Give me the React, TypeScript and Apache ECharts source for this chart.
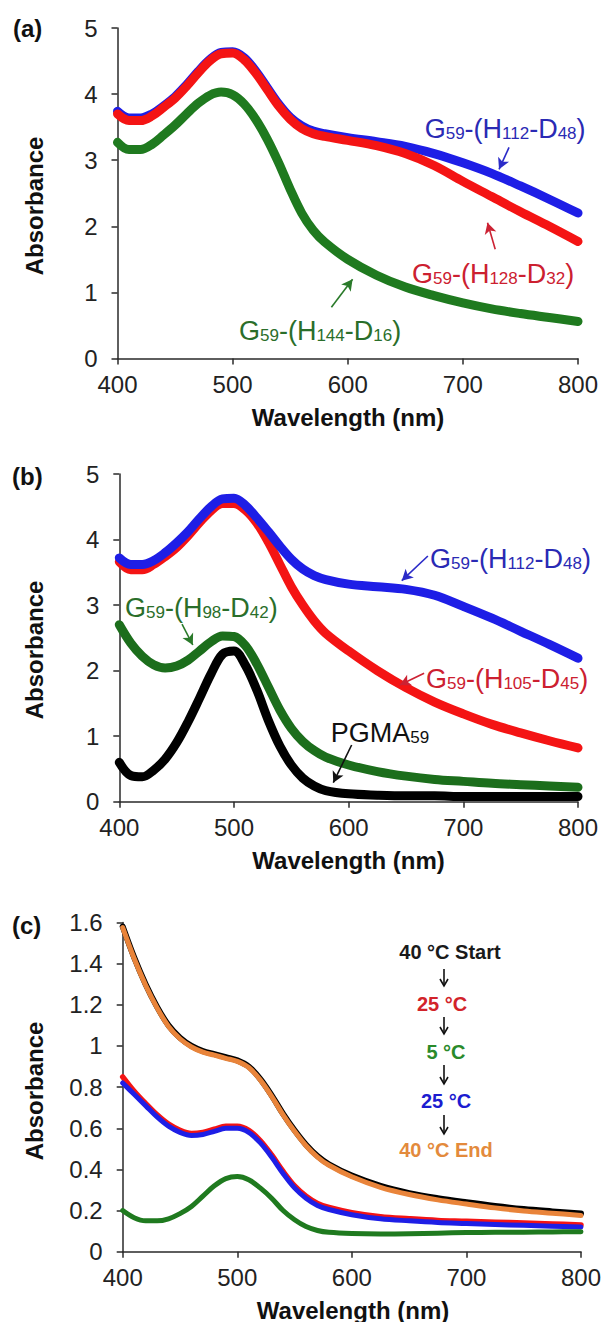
import React, { useEffect, useRef } from "react";
import * as echarts from "echarts";

const FONT = '"Liberation Sans", Arial, Helvetica, sans-serif';

// shared wavelength grid (nm)
const WL = [400, 410, 420, 430, 440, 450, 460, 470, 480, 490, 500, 510, 520, 530, 540, 550, 560, 570, 580, 600, 625, 650, 675, 700, 725, 750, 775, 800];

// Panel (a)
const A_H112_D48 = [3.74, 3.64, 3.64, 3.70, 3.82, 3.96, 4.14, 4.34, 4.52, 4.63, 4.64, 4.55, 4.35, 4.10, 3.85, 3.65, 3.52, 3.44, 3.40, 3.34, 3.28, 3.21, 3.10, 2.96, 2.80, 2.61, 2.41, 2.20];
const A_H128_D32 = [3.70, 3.60, 3.60, 3.67, 3.80, 3.94, 4.12, 4.32, 4.50, 4.61, 4.62, 4.52, 4.32, 4.07, 3.82, 3.62, 3.48, 3.40, 3.36, 3.30, 3.22, 3.10, 2.92, 2.68, 2.45, 2.22, 2.00, 1.77];
const A_H144_D16 = [3.27, 3.16, 3.16, 3.24, 3.38, 3.53, 3.70, 3.86, 3.98, 4.03, 3.99, 3.85, 3.62, 3.32, 2.96, 2.56, 2.20, 1.94, 1.76, 1.50, 1.26, 1.08, 0.95, 0.84, 0.75, 0.68, 0.62, 0.56];

// Panel (b)
const B_H112_D48 = [3.72, 3.62, 3.62, 3.68, 3.80, 3.95, 4.12, 4.32, 4.50, 4.62, 4.63, 4.52, 4.33, 4.12, 3.90, 3.70, 3.55, 3.45, 3.39, 3.32, 3.28, 3.24, 3.15, 2.98, 2.80, 2.60, 2.40, 2.19];
const B_H105_D45 = [3.66, 3.54, 3.54, 3.62, 3.74, 3.88, 4.06, 4.26, 4.44, 4.55, 4.55, 4.45, 4.25, 3.96, 3.62, 3.28, 3.00, 2.76, 2.57, 2.30, 2.00, 1.74, 1.52, 1.34, 1.18, 1.05, 0.93, 0.82];
const B_H98_D42 = [2.70, 2.42, 2.22, 2.09, 2.04, 2.07, 2.16, 2.30, 2.44, 2.53, 2.52, 2.38, 2.10, 1.75, 1.40, 1.12, 0.92, 0.78, 0.68, 0.56, 0.46, 0.39, 0.34, 0.31, 0.28, 0.26, 0.24, 0.22];
const B_PGMA = [0.60, 0.40, 0.38, 0.48, 0.65, 0.90, 1.22, 1.58, 1.95, 2.25, 2.30, 2.08, 1.70, 1.24, 0.85, 0.56, 0.36, 0.24, 0.17, 0.12, 0.10, 0.09, 0.09, 0.08, 0.08, 0.08, 0.08, 0.08];

// Panel (c)
const C_40_START = [1.58, 1.43, 1.30, 1.19, 1.10, 1.04, 1.00, 0.975, 0.96, 0.945, 0.93, 0.90, 0.84, 0.76, 0.67, 0.59, 0.52, 0.465, 0.425, 0.37, 0.32, 0.285, 0.26, 0.24, 0.222, 0.207, 0.196, 0.186];
const C_25_A = [0.85, 0.78, 0.72, 0.665, 0.62, 0.59, 0.575, 0.58, 0.595, 0.61, 0.61, 0.59, 0.54, 0.47, 0.39, 0.32, 0.27, 0.235, 0.215, 0.19, 0.17, 0.16, 0.152, 0.148, 0.143, 0.14, 0.135, 0.13];
const C_5 = [0.20, 0.165, 0.15, 0.15, 0.16, 0.185, 0.22, 0.27, 0.32, 0.355, 0.365, 0.35, 0.31, 0.26, 0.20, 0.155, 0.122, 0.103, 0.094, 0.088, 0.086, 0.087, 0.09, 0.093, 0.094, 0.095, 0.096, 0.097];
const C_25_B = [0.82, 0.765, 0.71, 0.655, 0.61, 0.58, 0.565, 0.57, 0.585, 0.60, 0.60, 0.58, 0.53, 0.46, 0.38, 0.31, 0.26, 0.225, 0.205, 0.18, 0.16, 0.15, 0.142, 0.137, 0.132, 0.128, 0.124, 0.12];
const C_40_END = [1.575, 1.425, 1.295, 1.185, 1.095, 1.035, 0.995, 0.97, 0.955, 0.94, 0.925, 0.895, 0.835, 0.755, 0.665, 0.585, 0.515, 0.46, 0.42, 0.364, 0.313, 0.278, 0.252, 0.232, 0.213, 0.198, 0.187, 0.176];

const X_TICKS = { min: 400, max: 800, interval: 100 };
const Y_AB = { min: 0, max: 5, interval: 1 };
const Y_C = { min: 0, max: 1.6, interval: 0.2 };

const BLUE = "#1e1ee6";
const RED = "#f41414";
const GREEN = "#1f7a1f";
const BLACK = "#000000";
const ORANGE = "#e9843a";

const pairs = (ys: number[]) => WL.map((w, i) => [w, ys[i]]);

const GRIDS = [
  { left: 117.5, top: 28, width: 460.5, height: 330.5 },
  { left: 119.3, top: 474, width: 458.7, height: 327.7 },
  { left: 122.7, top: 922.5, width: 461.3, height: 329.2 },
];

function xAxis(gi: number) {
  return {
    type: "value",
    gridIndex: gi,
    ...X_TICKS,
    axisLine: { show: true, lineStyle: { color: "#2a2a2a", width: 1.5 } },
    axisTick: { show: true, inside: false, length: 6, lineStyle: { color: "#2a2a2a", width: 1.5 } },
    splitLine: { show: false },
    axisLabel: { fontSize: 24, color: "#222", fontFamily: FONT, margin: 14 },
  };
}
function yAxis(gi: number, r: any, fmt?: (v: number) => string) {
  return {
    type: "value",
    gridIndex: gi,
    ...r,
    axisLine: { show: true, lineStyle: { color: "#2a2a2a", width: 1.5 } },
    axisTick: { show: true, inside: false, length: 6, lineStyle: { color: "#2a2a2a", width: 1.5 } },
    splitLine: { show: false },
    axisLabel: { fontSize: 24, color: "#222", fontFamily: FONT, margin: 20, formatter: fmt },
  };
}

function line(name: string, gi: number, ys: number[], color: string, width: number, arrows?: any) {
  const s: any = {
    name,
    type: "line",
    xAxisIndex: gi,
    yAxisIndex: gi,
    data: pairs(ys),
    showSymbol: false,
    symbol: "none",
    smooth: 0.35,
    lineStyle: { color, width, cap: "round", join: "round" },
    itemStyle: { color },
  };
  if (arrows) {
    s.markLine = {
      silent: true,
      symbol: ["none", "arrow"],
      symbolSize: [9, 11],
      lineStyle: { color: arrows.color, width: 1.6, type: "solid" },
      label: { show: false },
      data: [[{ coord: arrows.from }, { coord: arrows.to }]],
    };
  }
  return s;
}

function subLabel(parts: [string, string][], x: number, y: number, color: string) {
  const text = parts.map(([m, s]) => `{m|${m}}` + (s ? `{s|${s}}` : "")).join("");
  return {
    type: "text",
    x,
    y,
    z: 100,
    style: {
      text,
      fill: color,
      align: "left",
      verticalAlign: "top",
      rich: {
        m: { fontSize: 27, fontFamily: FONT, fill: color, lineHeight: 27 },
        s: { fontSize: 17, fontFamily: FONT, fill: color, lineHeight: 6, verticalAlign: "bottom" },
      },
    },
  };
}

function plainText(text: string, x: number, y: number, color: string, size: number, bold: boolean, align = "center", rotation = 0) {
  return {
    type: "text",
    x,
    y,
    rotation,
    z: 100,
    style: {
      text,
      fill: color,
      fontSize: size,
      fontWeight: bold ? "bold" : "normal",
      fontFamily: FONT,
      align,
      verticalAlign: "middle",
    },
  };
}

function downArrow(x: number, y1: number, y2: number) {
  return [
    { type: "line", z: 100, shape: { x1: x, y1, x2: x, y2 }, style: { stroke: "#111", lineWidth: 1.6 } },
    { type: "polyline", z: 100, shape: { points: [[x - 4, y2 - 7], [x, y2], [x + 4, y2 - 7]] }, style: { stroke: "#111", lineWidth: 1.6, fill: "none" } },
  ];
}

const fmtC = (v: number) => String(+v.toFixed(1));

export default function App() {
  const ref = useRef<HTMLDivElement>(null);
  useEffect(() => {
    document.body.style.margin = "0";
    const chart = echarts.init(ref.current!, null, { renderer: "svg" });
    const option: any = {
      animation: false,
      backgroundColor: "#ffffff",
      grid: GRIDS,
      xAxis: [xAxis(0), xAxis(1), xAxis(2)],
      yAxis: [yAxis(0, Y_AB), yAxis(1, Y_AB), yAxis(2, Y_C, fmtC)],
      series: [
        line("G59-(H112-D48) a", 0, A_H112_D48, BLUE, 9, { color: "#2b2bc8", from: [740.1, 3.195], to: [731.4, 2.862] }),
        line("G59-(H128-D32)", 0, A_H128_D32, RED, 9, { color: "#cc2233", from: [728.1, 1.652], to: [721.4, 2.055] }),
        line("G59-(H144-D16)", 0, A_H144_D16, GREEN, 9, { color: "#2a7a2a", from: [585.8, 0.775], to: [604.2, 1.198] }),

        line("G59-(H105-D45)", 1, B_H105_D45, RED, 9, { color: "#cc2233", from: [665.8, 1.959], to: [644.6, 1.781] }),
        line("G59-(H112-D48) b", 1, B_H112_D48, BLUE, 9, { color: "#2b2bc8", from: [669.1, 3.749], to: [646.3, 3.372] }),
        line("G59-(H98-D42)", 1, B_H98_D42, "#1c6e1c", 9, { color: "#2a7a2a", from: [454.7, 2.711], to: [464.1, 2.391] }),
        line("PGMA59", 1, B_PGMA, BLACK, 9, { color: "#111", from: [602.6, 0.865], to: [586.6, 0.29] }),

        line("40 °C Start", 2, C_40_START, BLACK, 6, null),
        line("40 °C End", 2, C_40_END, ORANGE, 5, null),
        line("25 °C", 2, C_25_A, RED, 5.5, null),
        line("25 °C (2)", 2, C_25_B, BLUE, 5, null),
        line("5 °C", 2, C_5, GREEN, 5, null),
      ],
      graphic: [
        plainText("(a)", 13, 28, "#111", 24, true, "left"),
        plainText("(b)", 12, 476, "#111", 24, true, "left"),
        plainText("(c)", 12, 925, "#111", 24, true, "left"),

        plainText("Absorbance", 34.5, 206, "#111", 24, true, "center", Math.PI / 2),
        plainText("Absorbance", 34.5, 650, "#111", 24, true, "center", Math.PI / 2),
        plainText("Absorbance", 34.5, 1091, "#111", 24, true, "center", Math.PI / 2),

        plainText("Wavelength (nm)", 348, 417, "#111", 24, true),
        plainText("Wavelength (nm)", 348.5, 860, "#111", 24, true),
        plainText("Wavelength (nm)", 353, 1310, "#111", 24, true),

        subLabel([["G", "59"], ["-(H", "112"], ["-D", "48"], [")", ""]], 424.7, 115, "#2a2ab4"),
        subLabel([["G", "59"], ["-(H", "128"], ["-D", "32"], [")", ""]], 412, 260, "#cc2030"),
        subLabel([["G", "59"], ["-(H", "144"], ["-D", "16"], [")", ""]], 239, 317, "#2a6e2a"),

        subLabel([["G", "59"], ["-(H", "112"], ["-D", "48"], [")", ""]], 430, 545, "#2a2ab4"),
        subLabel([["G", "59"], ["-(H", "105"], ["-D", "45"], [")", ""]], 426, 665, "#cc2030"),
        subLabel([["G", "59"], ["-(H", "98"], ["-D", "42"], [")", ""]], 125, 594, "#2a6e2a"),
        subLabel([["PGMA", "59"]], 330.7, 719, "#111"),

        plainText("40 °C Start", 450, 952, "#1a1a1a", 20, true),
        plainText("25 °C", 442, 1004, "#d2232a", 20, true),
        plainText("5 °C", 446, 1052, "#2a8a2a", 20, true),
        plainText("25 °C", 446, 1101, "#1c1cd0", 20, true),
        plainText("40 °C End", 446, 1150, "#e38a3c", 20, true),
        ...downArrow(444, 969, 986),
        ...downArrow(444, 1017, 1034),
        ...downArrow(444, 1065, 1084),
        ...downArrow(444, 1115, 1134),
      ],
    };
    chart.setOption(option);
    return () => chart.dispose();
  }, []);
  return <div ref={ref} style={{ width: 604, height: 1322, overflow: "hidden" }} />;
}
